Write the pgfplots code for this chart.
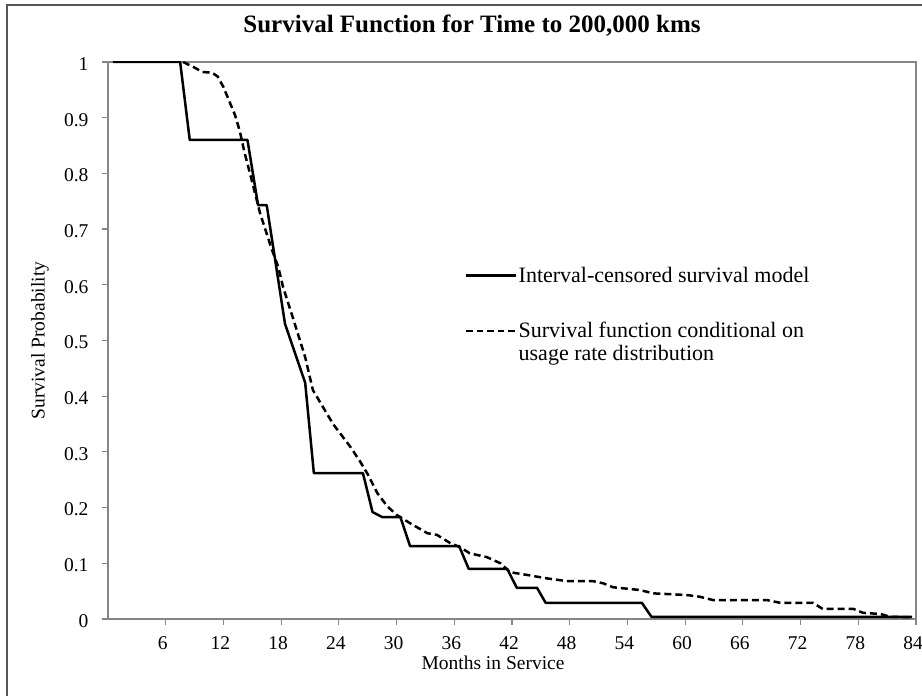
\documentclass[border=0pt]{standalone}
\usepackage{fontspec}
\setmainfont{Liberation Serif}
\usepackage{pgfplots}
\pgfplotsset{compat=1.18}
\definecolor{axgray}{RGB}{134,134,134}
\definecolor{framegray}{RGB}{85,85,85}
\pgfplotsset{
  legsolid/.style={legend image code/.code={\draw[##1] (0pt,0pt) -- (50pt,0pt);}},
  legdash/.style={legend image code/.code={\draw[##1, dash pattern=on 6.5pt off 4pt] (0pt,11pt) -- (50pt,11pt);}},
}
\begin{document}
\begin{tikzpicture}
\path[use as bounding box] (0pt,0pt) rectangle (922pt,696pt);
\draw[framegray, line width=1.6pt] (7pt,0pt) -- (7pt,691pt) -- (922pt,691pt);
\begin{axis}[
  at={(108pt,77pt)}, anchor=south west,
  scale only axis, width=808pt, height=557pt,
  xmin=0, xmax=84, ymin=0, ymax=1,
  xtick={6,12,18,24,30,36,42,48,54,60,66,72,78,84},
  ytick={0,0.1,0.2,0.3,0.4,0.5,0.6,0.7,0.8,0.9,1},
  yticklabels={0,0.1,0.2,0.3,0.4,0.5,0.6,0.7,0.8,0.9,1},
  tick pos=left, tick align=outside,
  major tick length=6pt,
  every tick/.style={axgray, line width=1.2pt},
  axis line style={axgray, line width=1.5pt},
  /pgf/number format/assume math mode=true,
  ticklabel style={font=\fontsize{19.5}{24}\selectfont, text=black},
  xticklabel style={yshift=-8pt, xshift=-3pt},
  yticklabel style={xshift=-10pt, yshift=-2pt},
  title={Survival Function for Time to 200,000 kms},
  title style={at={(axis description cs:0.4505,1.0538)}, anchor=center, font=\bfseries\fontsize{25}{30}\selectfont},
  xlabel={Months in Service},
  xlabel style={at={(axis description cs:0.4765,-0.079)}, anchor=center, font=\fontsize{19.5}{23}\selectfont},
  ylabel={Survival Probability},
  ylabel style={at={(axis description cs:-0.0842,0.5)}, anchor=center, font=\fontsize{19.5}{23}\selectfont},
  legend style={at={(axis cs:36.8,0.6394)}, anchor=north west, draw=none, fill=none,
    font=\fontsize{22}{23}\selectfont, cells={anchor=west, align=left},
    nodes={inner xsep=1pt, inner ysep=2pt}, row sep=34pt},
]
\addplot[black, line width=2.5pt, line join=round, legsolid] coordinates {
(0.5,1) (7.5,1) (8.5,0.86) (14.5,0.86) (15.6,0.743) (16.5,0.743) (18.4,0.53) (20.5,0.424) (21.4,0.262) (26.5,0.262) (27.5,0.192) (28.5,0.183) (30.4,0.183) (31.4,0.131) (36.5,0.131) (37.5,0.090) (41.5,0.090) (42.5,0.056) (44.6,0.056) (45.5,0.029) (55.5,0.029) (56.5,0.004) (83.6,0.004)
};
\addlegendentry{Interval-censored survival model}
\addplot[black, line width=2.5pt, dash pattern=on 7pt off 4pt, legdash] coordinates {
(7.8,1.0) (9.0,0.99) (9.8,0.982) (10.8,0.981) (11.4,0.974) (12.0,0.955) (12.6,0.93) (13.2,0.905) (13.7,0.876) (14.2,0.837) (15.0,0.784) (15.8,0.729) (17.0,0.665) (17.7,0.632) (18.2,0.596) (19.2,0.542) (20.5,0.470) (21.3,0.411) (23.4,0.350) (25.2,0.309) (26.2,0.283) (27.0,0.26) (28.0,0.226) (29.0,0.203) (30.0,0.187) (31.4,0.172) (33.2,0.154) (34.2,0.151) (35.6,0.136) (36.6,0.129) (37.6,0.118) (39.4,0.111) (40.8,0.100) (41.8,0.084) (43.6,0.079) (45.6,0.073) (47.7,0.068) (50.4,0.068) (51.5,0.064) (52.5,0.057) (55.3,0.052) (56.7,0.046) (60.2,0.043) (61.5,0.040) (62.9,0.034) (68.5,0.034) (69.9,0.029) (73.3,0.029) (74.3,0.018) (77.5,0.018) (78.5,0.011) (80.3,0.009) (81.3,0.004) (83.6,0.003)
};
\addlegendentry{Survival function conditional on\\usage rate distribution}
\end{axis}
\end{tikzpicture}
\end{document}
